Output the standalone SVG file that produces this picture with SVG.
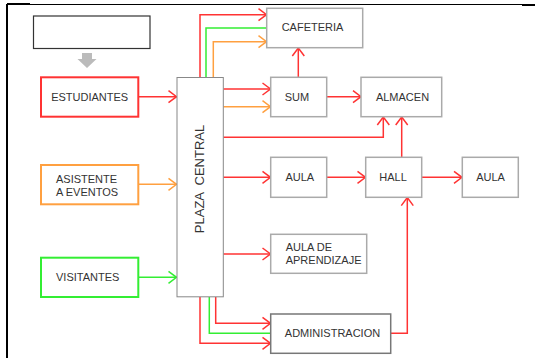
<svg xmlns="http://www.w3.org/2000/svg" width="535" height="358" viewBox="0 0 535 358">
<style>
  text { font-family: "Liberation Sans", Arial, sans-serif; font-size: 11px; fill: #333; }
  .box { fill: #fff; stroke: #aaa; stroke-width: 1.5; }
  .r { fill: none; stroke: #ff3333; stroke-width: 1.5; }
  .g { fill: none; stroke: #33ee33; stroke-width: 1.5; }
  .o { fill: none; stroke: #ffa040; stroke-width: 1.5; }
</style>
<defs>
  <marker id="ar" markerUnits="userSpaceOnUse" markerWidth="12" markerHeight="14" refX="9" refY="7" orient="auto">
    <path d="M1,1 L9,7 L1,13" fill="none" stroke="#ff3333" stroke-width="1.5"/>
  </marker>
  <marker id="ao" markerUnits="userSpaceOnUse" markerWidth="12" markerHeight="14" refX="9" refY="7" orient="auto">
    <path d="M1,1 L9,7 L1,13" fill="none" stroke="#ffa040" stroke-width="1.5"/>
  </marker>
  <marker id="ag" markerUnits="userSpaceOnUse" markerWidth="12" markerHeight="14" refX="9" refY="7" orient="auto">
    <path d="M1,1 L9,7 L1,13" fill="none" stroke="#33ee33" stroke-width="1.5"/>
  </marker>
</defs>
<rect width="535" height="358" fill="#fff"/>
<!-- frame -->
<path d="M7,4.5 H535" stroke="#000" stroke-width="1"/>
<path d="M7,4 H30" stroke="#000" stroke-width="2"/>
<path d="M522,5 H535" stroke="#000" stroke-width="2"/>
<path d="M7,4 V358" stroke="#000" stroke-width="2"/>

<g id="title-box">
  <rect x="33.5" y="16" width="116.5" height="32.5" fill="#fff" stroke="#333" stroke-width="1.2"/>
</g>
<g id="down-arrow">
  <path d="M82,53 H92 V59 H96.5 L87,68 L77.5,59 H82 Z" fill="#bbb"/>
</g>

<g id="connectors">
  <path class="r" d="M138.5,96.7 H176.5" marker-end="url(#ar)"/>
  <path class="o" d="M138.5,184.3 H176.5" marker-end="url(#ao)"/>
  <path class="g" d="M138.5,277.3 H176.5" marker-end="url(#ag)"/>
  <!-- to cafeteria -->
  <path class="r" d="M200,77.5 V14.7 H266.5" marker-end="url(#ar)"/>
  <path class="g" d="M206,77.5 V28 H266.5"/>
  <path class="o" d="M213.3,77.5 V41.7 H266.5" marker-end="url(#ao)"/>
  <!-- to SUM -->
  <path class="r" d="M223.3,89 H270.5" marker-end="url(#ar)"/>
  <path class="o" d="M223.3,106.7 H270.5" marker-end="url(#ao)"/>
  <!-- SUM -> CAFETERIA -->
  <path class="r" d="M298.3,77.3 V48" marker-end="url(#ar)"/>
  <!-- SUM -> ALMACEN -->
  <path class="r" d="M326.7,96.7 H361" marker-end="url(#ar)"/>
  <!-- plaza -> ALMACEN -->
  <path class="r" d="M223.3,137.3 H383.3 V117" marker-end="url(#ar)"/>
  <!-- HALL -> ALMACEN -->
  <path class="r" d="M401.7,157.3 V117" marker-end="url(#ar)"/>
  <!-- plaza -> AULA -->
  <path class="r" d="M223.3,177.3 H270.5" marker-end="url(#ar)"/>
  <path class="r" d="M326.7,177.3 H365.5" marker-end="url(#ar)"/>
  <path class="r" d="M421.7,177.3 H462" marker-end="url(#ar)"/>
  <!-- plaza -> AULA DE APRENDIZAJE -->
  <path class="r" d="M223.3,254 H270.5" marker-end="url(#ar)"/>
  <!-- plaza -> ADMINISTRACION -->
  <path class="r" d="M215.7,297 V323.3 H270.5" marker-end="url(#ar)"/>
  <path class="g" d="M209.3,297 V333.3 H270.5"/>
  <path class="r" d="M200,297 V343.3 H270.5" marker-end="url(#ar)"/>
  <!-- ADMIN -> HALL -->
  <path class="r" d="M390.7,333.3 H407.3 V197.6" marker-end="url(#ar)"/>
</g>

<g id="estudiantes">
  <rect x="41" y="77.3" width="97.3" height="39.4" fill="#fff" stroke="#ff3333" stroke-width="2"/>
  <text x="89.7" y="100.5" text-anchor="middle">ESTUDIANTES</text>
</g>
<g id="asistente">
  <rect x="41" y="165" width="97.3" height="39.3" fill="#fff" stroke="#ffa040" stroke-width="2"/>
  <text x="56" y="182.7">ASISTENTE</text>
  <text x="56" y="195.7">A EVENTOS</text>
</g>
<g id="visitantes">
  <rect x="41" y="257.7" width="97.3" height="39.3" fill="#fff" stroke="#33ee33" stroke-width="2"/>
  <text x="56" y="281">VISITANTES</text>
</g>
<g id="plaza-central">
  <rect x="177" y="77.5" width="46.3" height="219.3" fill="#fff" stroke="#888" stroke-width="1"/>
  <text transform="translate(204,179) rotate(-90)" text-anchor="middle" style="font-size:13px;white-space:pre" xml:space="preserve">PLAZA  CENTRAL</text>
</g>
<g id="cafeteria">
  <rect class="box" x="266.7" y="8.3" width="96" height="39.4"/>
  <text x="312.5" y="31" text-anchor="middle">CAFETERIA</text>
</g>
<g id="sum">
  <rect class="box" x="270.7" y="77.3" width="56" height="39.4"/>
  <text x="297" y="100.5" text-anchor="middle">SUM</text>
</g>
<g id="almacen">
  <rect class="box" x="361" y="77.3" width="80.7" height="39.4"/>
  <text x="402.5" y="100.5" text-anchor="middle">ALMACEN</text>
</g>
<g id="aula1">
  <rect class="box" x="270.7" y="157.3" width="56" height="40"/>
  <text x="299.8" y="181" text-anchor="middle">AULA</text>
</g>
<g id="hall">
  <rect class="box" x="365.7" y="157.3" width="56" height="40"/>
  <text x="393" y="181" text-anchor="middle">HALL</text>
</g>
<g id="aula2">
  <rect class="box" x="462.3" y="157.3" width="56" height="40"/>
  <text x="490.5" y="181" text-anchor="middle">AULA</text>
</g>
<g id="aula-aprendizaje">
  <rect class="box" x="270.7" y="234.3" width="96" height="39"/>
  <text x="285.7" y="251">AULA DE</text>
  <text x="285.7" y="263.7">APRENDIZAJE</text>
</g>
<g id="administracion">
  <rect x="270.7" y="314" width="120" height="39.3" fill="#fff" stroke="#777" stroke-width="1.5"/>
  <text x="332.5" y="336.5" text-anchor="middle">ADMINISTRACION</text>
</g>
</svg>
